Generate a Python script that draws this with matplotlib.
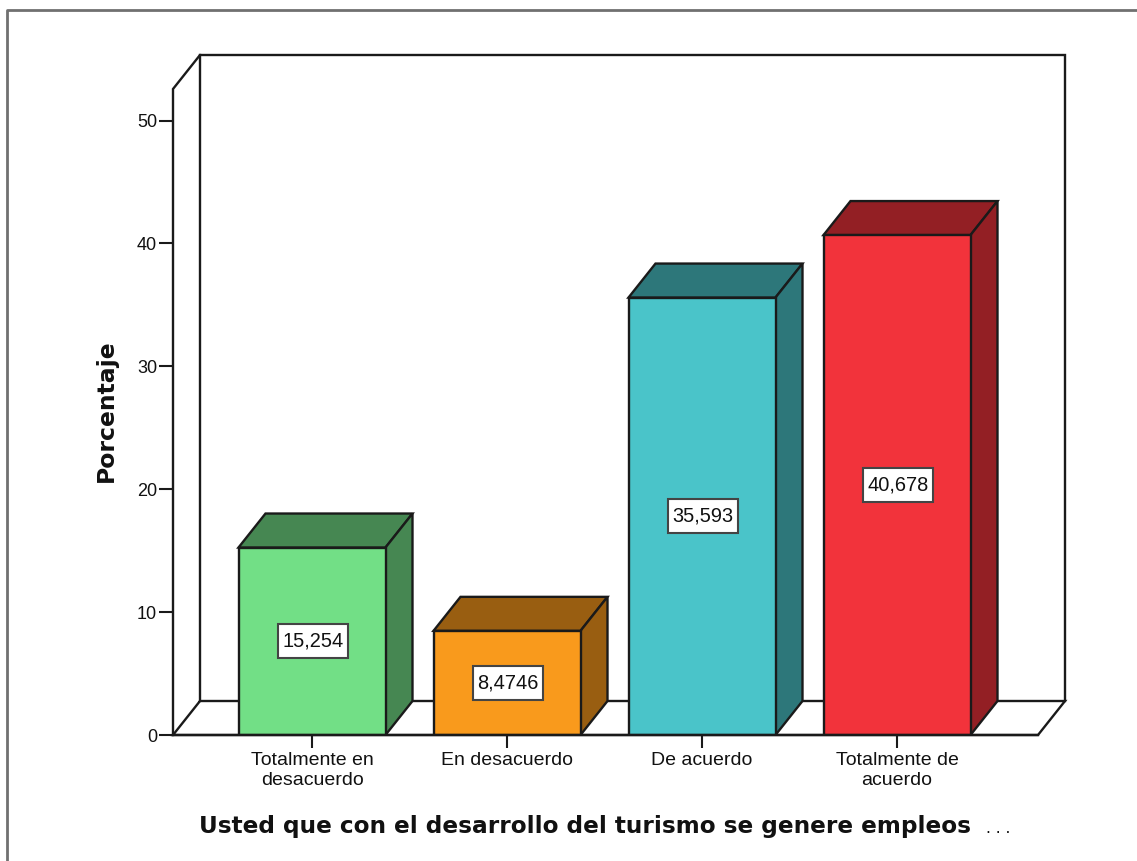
import matplotlib
matplotlib.use("Agg")
import matplotlib.pyplot as plt
from matplotlib.patches import Polygon, Rectangle

categories = ["Totalmente en\ndesacuerdo", "En desacuerdo", "De acuerdo", "Totalmente de\nacuerdo"]
values = [15.254, 8.4746, 35.593, 40.678]
value_labels = ["15,254", "8,4746", "35,593", "40,678"]
front_colors = ["#72DF86", "#F99A1C", "#4AC4C9", "#F2333B"]
side_colors = ["#468752", "#995E11", "#2D777A", "#931F24"]
y_ticks = [0, 10, 20, 30, 40, 50]

W, H = 1137, 861
LEFT, RIGHT, BOTTOM, TOP = 173, 1065, 735, 55
PX_X = 195.0    # pixels per category
PX_Y = 12.29    # pixels per percent
DX = 27 / PX_X  # depth of the fake 3d
DY = 34 / PX_Y
HALF = 73.5 / PX_X
LINE = "#1a1a1a"
FONT = "Liberation Sans"

fig = plt.figure(figsize=(W / 100, H / 100), dpi=100)
fig.patch.set_facecolor("white")
ax = fig.add_axes([LEFT / W, 1 - BOTTOM / H, (RIGHT - LEFT) / W, (BOTTOM - TOP) / H])
ax.set_xlim((LEFT - 312) / PX_X, (RIGHT - 312) / PX_X)
ax.set_ylim(0, (BOTTOM - TOP) / PX_Y)
ax.patch.set_alpha(0)
for s in ["top", "right", "bottom", "left"]:
    ax.spines[s].set_visible(False)

# outer grey frame, cut off by the image edge
fig.add_artist(plt.Line2D([7 / W, 7 / W, 1], [0, 1 - 9.5 / H, 1 - 9.5 / H], color="#707070", lw=2.0))

x0, x1 = ax.get_xlim()
y1 = ax.get_ylim()[1]
wall = dict(color=LINE, lw=1.7, solid_joinstyle="miter", zorder=1)
ax.plot([x0, x0, x0 + DX, x1, x1], [0, y1 - DY, y1, y1, DY], clip_on=False, **wall)
ax.plot([x0 + DX, x0 + DX, x1, x1 - DX, x0, x0 + DX], [y1, DY, DY, 0, 0, DY], clip_on=False, **wall)

box_w, box_h = 70 / PX_X, 34 / PX_Y
for i, v in enumerate(values):
    l, r = i - HALF, i + HALF
    ax.add_patch(Polygon([(l, v), (l + DX, v + DY), (r + DX, v + DY), (r, v)],
                         fc=side_colors[i], ec=LINE, lw=1.7, zorder=3, joinstyle="miter"))
    ax.add_patch(Polygon([(r, 0), (r + DX, DY), (r + DX, v + DY), (r, v)],
                         fc=side_colors[i], ec=LINE, lw=1.7, zorder=3, joinstyle="miter"))
    ax.add_patch(Rectangle((l, 0), r - l, v, fc=front_colors[i], ec=LINE, lw=1.7, zorder=4, joinstyle="miter"))
    ax.add_patch(Rectangle((i + 0.005 - box_w / 2, v / 2 - box_h / 2), box_w, box_h,
                           fc="white", ec="#444444", lw=1.5, zorder=5))
    ax.text(i + 0.005, v / 2, value_labels[i], ha="center", va="center", fontsize=14.4, family=FONT,
            color="#111111", zorder=6)

# baseline goes over the bars
ax.plot([x0, x1 - DX], [0, 0], color=LINE, lw=1.7, zorder=7, clip_on=False)

ax.set_yticks(y_ticks)
ax.set_xticks(range(len(categories)))
ax.set_xticklabels(categories, fontsize=14, family=FONT, color="#111111", linespacing=1.2)
ax.set_yticklabels([str(t) for t in y_ticks], fontsize=13, family=FONT, color="#111111")
ax.tick_params(axis="y", length=10, width=1.5, color=LINE, pad=1.5)
ax.tick_params(axis="x", length=9.4, width=1.5, color=LINE, pad=3)

fig.text(106 / W, 1 - 411 / H, "Porcentaje", rotation=90, ha="center", va="center",
         fontsize=16.9, fontweight="bold", family="DejaVu Sans", color="#111111")
fig.text(199 / W, 1 - 826 / H, "Usted que con el desarrollo del turismo se genere empleos", ha="left", va="center",
         fontsize=16.7, fontweight="bold", family="DejaVu Sans", color="#111111")
fig.text(986 / W, 1 - 833 / H, ". . .", ha="left", va="baseline", fontsize=11, family="DejaVu Sans", color="#111111")

fig.savefig("out.png", dpi=100)
